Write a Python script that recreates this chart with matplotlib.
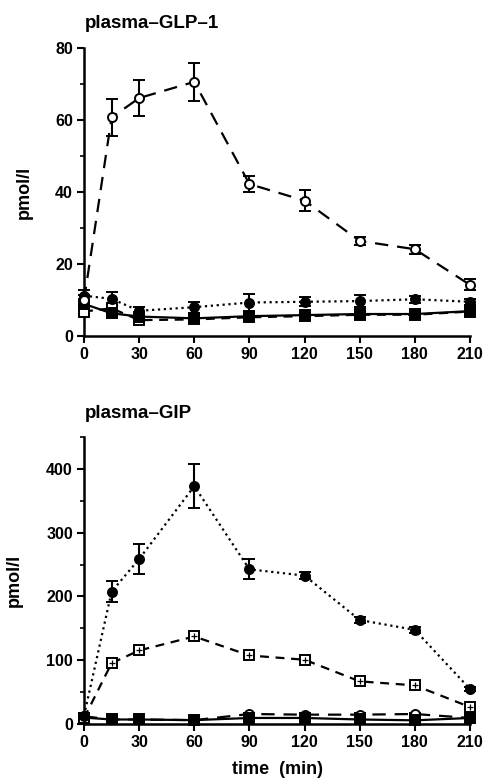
import numpy as np
import matplotlib
matplotlib.use("Agg")
import matplotlib.pyplot as plt
from matplotlib.ticker import MultipleLocator

plt.rcParams['font.family'] = ['Liberation Sans', 'DejaVu Sans']
plt.rcParams['font.weight'] = 'bold'

t = [0, 15, 30, 60, 90, 120, 150, 180, 210]

# plasma GLP-1 (pmol/l)
glp_open_circ = [10.0, 60.7, 66.1, 70.6, 42.2, 37.6, 26.4, 24.1, 14.2]
glp_open_circ_err = [1.5, 5.2, 5.0, 5.3, 2.3, 3.0, 1.1, 1.2, 1.5]
glp_filled_circ = [11.2, 10.3, 7.0, 8.0, 9.3, 9.5, 9.7, 10.2, 9.5]
glp_filled_circ_err = [1.5, 2.0, 1.0, 1.5, 2.5, 1.2, 1.7, 1.0, 0.8]
glp_filled_sq = [8.9, 6.3, 5.4, 4.9, 5.5, 5.8, 6.1, 6.1, 6.9]
glp_filled_sq_err = [1.0, 0.8, 0.6, 0.5, 0.8, 0.5, 0.6, 0.5, 0.6]
glp_open_sq = [6.8, 7.7, 4.4, 4.6, 5.2, 5.5, 5.9, 5.9, 6.8]
glp_open_sq_err = [0.8, 0.8, 0.5, 0.5, 0.5, 0.5, 0.5, 0.5, 0.5]

# plasma GIP (pmol/l)
gip_filled_circ = [13, 207.6, 258.7, 372.9, 242.5, 232.6, 163, 147.6, 54.8]
gip_filled_circ_err = [3, 17, 24, 34, 15.6, 6, 4, 5, 3]
gip_open_sq = [9, 95.4, 115.3, 137.2, 107.4, 100.7, 66.8, 60.5, 26.6]
gip_open_sq_err = [2, 8, 4, 5, 3, 3, 3, 3, 3]
gip_open_circ = [12, 7, 7, 6, 15.6, 14.6, 14.6, 15.6, 9.4]
gip_open_circ_err = [2, 1, 1, 1, 2, 2, 2, 2, 2]
gip_filled_sq = [10, 7, 7, 6, 9.4, 9.4, 7, 5.7, 9.4]
gip_filled_sq_err = [1, 1, 1, 1, 1, 1, 1, 1, 1]

fig = plt.figure(figsize=(4.83, 7.83), dpi=100)
ax1 = fig.add_axes([0.174, 0.5709, 0.799, 0.3678])
ax2 = fig.add_axes([0.174, 0.0754, 0.799, 0.3665])


def series(ax, y, e, marker, fill, ls, cross=False):
    ax.errorbar(t, y, yerr=e, color='black', marker=marker, ms=6.5, mew=1.4,
                mfc='black' if fill else 'white', mec='black', ls=ls, lw=1.6,
                capsize=4, elinewidth=1.5, capthick=1.5, clip_on=False, zorder=3)
    if cross:
        ax.plot(t, y, ls='none', marker='+', ms=4, mew=0.9, color='black',
                clip_on=False, zorder=4)


series(ax1, glp_open_sq, glp_open_sq_err, 's', False, (0, (4, 3)))
series(ax1, glp_filled_sq, glp_filled_sq_err, 's', True, '-')
series(ax1, glp_filled_circ, glp_filled_circ_err, 'o', True, ':')
series(ax1, glp_open_circ, glp_open_circ_err, 'o', False, (0, (6, 4)))

series(ax2, gip_open_circ, gip_open_circ_err, 'o', False, (0, (6, 4)))
series(ax2, gip_filled_sq, gip_filled_sq_err, 's', True, '-')
series(ax2, gip_open_sq, gip_open_sq_err, 's', False, (0, (4, 3)), cross=True)
series(ax2, gip_filled_circ, gip_filled_circ_err, 'o', True, ':')

for ax, top, major, minor in [(ax1, 80, 20, 10), (ax2, 450, 100, 50)]:
    ax.set_xlim(0, 210)
    ax.set_ylim(0, top)
    ax.set_xticks(t[:1] + t[2:])
    ax.yaxis.set_major_locator(MultipleLocator(major))
    ax.yaxis.set_minor_locator(MultipleLocator(minor))
    ax.spines['top'].set_visible(False)
    ax.spines['right'].set_visible(False)
    ax.spines['left'].set_linewidth(1.8)
    ax.spines['bottom'].set_linewidth(1.8)
    ax.tick_params(which='major', length=5, width=1.5, labelsize=11.5, pad=3)
    ax.tick_params(which='minor', length=3, width=1.2)
    for lab in ax.get_xticklabels() + ax.get_yticklabels():
        lab.set_fontweight('bold')
    ax.set_ylabel('pmol/l', fontsize=13, fontweight='bold')

ax1.yaxis.set_label_coords(-0.132, 0.5)
ax2.yaxis.set_label_coords(-0.158, 0.5)

fig.text(0.176, 1 - 23 / 783, 'plasma–GLP–1', fontsize=13.5, fontweight='bold', va='center')
fig.text(0.176, 1 - 413 / 783, 'plasma–GIP', fontsize=13.5, fontweight='bold', va='center')
ax2.set_xlabel('time  (min)', fontsize=13, fontweight='bold', labelpad=8)

fig.savefig('out.png', dpi=100)
